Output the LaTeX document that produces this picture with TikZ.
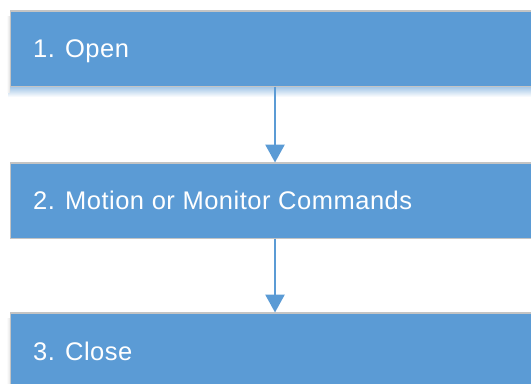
\documentclass[tikz,border=0pt]{standalone}
\usepackage{fontspec}
\setmainfont{Liberation Sans}
\definecolor{stepblue}{HTML}{5B9BD5}
\definecolor{stepedge}{HTML}{C4C4C4}
\tikzset{
  stepbox/.style={draw=stepedge, line width=1.8bp, fill=stepblue,
    rectangle, anchor=north west, minimum width=530bp, minimum height=75.5bp,
    inner sep=0pt, outer sep=0pt},
  steptext/.style={anchor=base west, inner sep=0pt, text=white,
    font=\fontsize{25.5bp}{29bp}\selectfont\addfontfeature{LetterSpace=2}},
  flowarrow/.style={draw=stepblue, line width=2.8bp,
    -{Triangle[width=19bp,length=18bp]}, shorten >=0.5bp}
}
\usetikzlibrary{arrows.meta}
\begin{document}
\begin{tikzpicture}[x=1bp,y=-1bp]
  \useasboundingbox (0,0) rectangle (531,383);
  \clip (0,0) rectangle (531,383);

  % soft shadow under the first step
  \shade[top color=stepblue!55!white, bottom color=white]
    (8,87) rectangle (545,97);
  \shade[left color=white, right color=black!12]
    (6.5,16) rectangle (10,92);
  \shade[left color=white, right color=black!10]
    (6.5,318) rectangle (10,383);

  % steps
  \node[stepbox] (s1) at (10.5,11) {};
  \node[stepbox] (s2) at (10.5,163) {};
  \node[stepbox] (s3) at (10.5,313) {};

  \node[steptext] (t1) at (33,57.5) {1. Open};
  \node[steptext] (t2) at (33,209) {2. Motion or Monitor Commands};
  \node[steptext] (t3) at (33,360) {3. Close};

  % connectors
  \coordinate (ax) at (275,0);
  \draw[flowarrow] (s1.south -| ax) -- (s2.north -| ax);
  \draw[flowarrow] (s2.south -| ax) -- (s3.north -| ax);
\end{tikzpicture}
\end{document}
